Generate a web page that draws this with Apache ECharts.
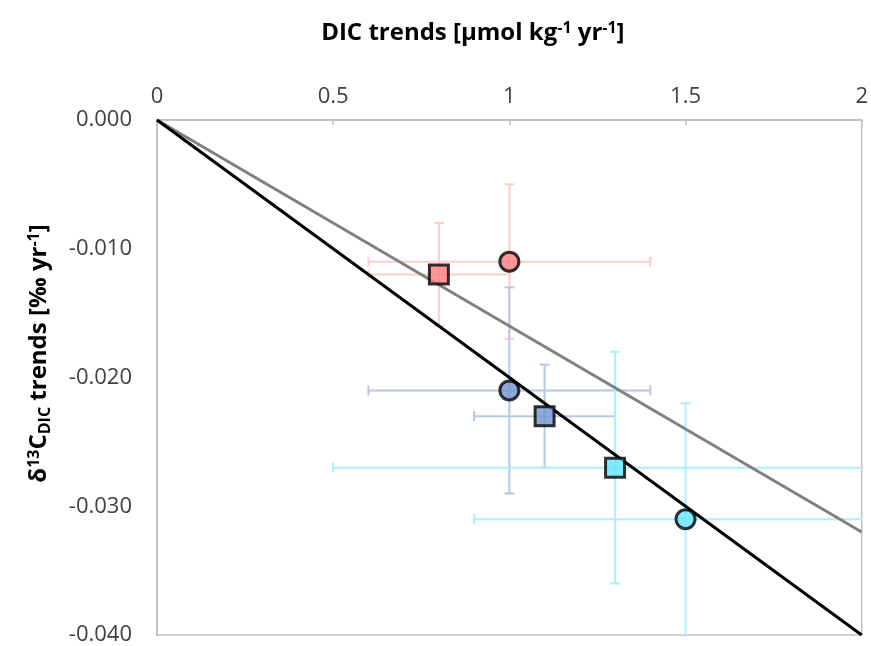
<!DOCTYPE html>
<html>
<head>
<meta charset="utf-8">
<script src="https://cdn.jsdelivr.net/npm/echarts@6/dist/echarts.min.js"></script>
<style>
html,body{margin:0;padding:0;background:#fff;}
#chart{width:871px;height:646px;}
</style>
</head>
<body>
<div id="chart"></div>
<script>
// ---- data ----
const pointNames = ['red square', 'red circle', 'blue circle', 'blue square', 'cyan square', 'cyan circle'];
const xValues = [0.8, 1.0, 1.0, 1.1, 1.3, 1.5];
const yValues = [-0.012, -0.011, -0.021, -0.023, -0.027, -0.031];
const xErrors = [0.2, 0.4, 0.4, 0.2, 0.8, 0.6];
const yErrors = [0.004, 0.006, 0.008, 0.004, 0.009, 0.009];
const blackLine = [[0, 0], [2, -0.040]];
const grayLine = [[0, 0], [2, -0.032]];
const xTicks = [0, 0.5, 1, 1.5, 2];
const yTicks = [0, -0.010, -0.020, -0.030, -0.040];

// ---- styles ----
const shapes = ['rect', 'circle', 'circle', 'rect', 'rect', 'circle'];
const fills = ['#ff7c80', '#ff7c80', '#7293d1', '#7293d1', '#66e3fc', '#66e3fc'];
const barColors = ['#ffcccc', '#ffcccc', '#b4c7e7', '#b4c7e7', '#aaf0ff', '#aaf0ff'];
const FONT = 'Open Sans';

const errData = xValues.map((x, i) => [x, yValues[i], xErrors[i], yErrors[i], i]);
const scatterData = xValues.map((x, i) => ({
  value: [x, yValues[i]],
  symbol: shapes[i],
  symbolSize: 19,
  itemStyle: { color: fills[i], borderColor: '#000', borderWidth: 3 }
}));

const chart = echarts.init(document.getElementById('chart'), null, { renderer: 'canvas' });

const titleRich = {
  b: { fontFamily: FONT, fontSize: 24, fontWeight: 'bold', color: '#000' },
  sup: { fontFamily: FONT, fontSize: 16, fontWeight: 'bold', color: '#000', padding: [0, 0, 11, 0] },
  sub: { fontFamily: FONT, fontSize: 16, fontWeight: 'bold', color: '#000', padding: [11, 0, 0, 0] }
};

const option = {
  animation: false,
  backgroundColor: '#fff',
  grid: {
    left: 157, top: 120, right: 9, bottom: 10,
    show: true, borderColor: '#c0c0c0', borderWidth: 1.5, backgroundColor: 'transparent'
  },
  xAxis: {
    type: 'value', position: 'top', min: xTicks[0], max: xTicks[xTicks.length - 1], interval: 0.5,
    name: '{b|DIC trends [µmol kg}{sup|-1}{b| yr}{sup|-1}{b|]}',
    nameLocation: 'middle', nameGap: 73,
    nameTextStyle: { rich: titleRich, padding: [0, 73, 0, 0] },
    axisLine: { show: true, lineStyle: { color: '#c0c0c0', width: 1.5 } },
    axisTick: { show: true, inside: true, length: 5, lineStyle: { color: '#c0c0c0', width: 1.5 } },
    axisLabel: { fontFamily: FONT, fontSize: 22, color: '#404040', margin: 12 },
    splitLine: { show: false }
  },
  yAxis: {
    type: 'value', min: yTicks[yTicks.length - 1], max: yTicks[0], interval: 0.01,
    name: '{b|δ}{sup|13}{b|C}{sub|DIC}{b| trends [‰ yr}{sup|-1}{b|]}',
    nameLocation: 'middle', nameGap: 104, nameRotate: 90,
    nameTextStyle: { rich: titleRich, padding: [0, 0, 0, 48] },
    axisLine: { show: true, lineStyle: { color: '#c0c0c0', width: 1.5 } },
    axisTick: { show: false },
    axisLabel: { fontFamily: FONT, fontSize: 22, color: '#404040', margin: 25, formatter: v => v.toFixed(3) },
    splitLine: { show: false }
  },
  series: [
    {
      type: 'custom',
      clip: true,
      z: 1,
      data: errData,
      renderItem: function (params, api) {
        const x = api.value(0), y = api.value(1), ex = api.value(2), ey = api.value(3), idx = api.value(4);
        const c = barColors[idx];
        const L = api.coord([x - ex, y]), R = api.coord([x + ex, y]);
        const T = api.coord([x, y + ey]), B = api.coord([x, y - ey]);
        const cap = 5;
        const st = { stroke: c, lineWidth: 2 };
        const seg = (x1, y1, x2, y2) => ({ type: 'line', shape: { x1, y1, x2, y2 }, style: st });
        return {
          type: 'group',
          children: [
            seg(L[0], L[1], R[0], R[1]),
            seg(L[0], L[1] - cap, L[0], L[1] + cap),
            seg(R[0], R[1] - cap, R[0], R[1] + cap),
            seg(T[0], T[1], B[0], B[1]),
            seg(T[0] - cap, T[1], T[0] + cap, T[1]),
            seg(B[0] - cap, B[1], B[0] + cap, B[1])
          ]
        };
      }
    },
    {
      type: 'line', data: grayLine, symbol: 'none', z: 2,
      lineStyle: { color: '#808080', width: 3 }
    },
    {
      type: 'line', data: blackLine, symbol: 'none', z: 3,
      lineStyle: { color: '#000', width: 3 }
    },
    {
      type: 'scatter', data: scatterData, z: 5
    }
  ]
};
chart.setOption(option);
</script>
</body>
</html>
